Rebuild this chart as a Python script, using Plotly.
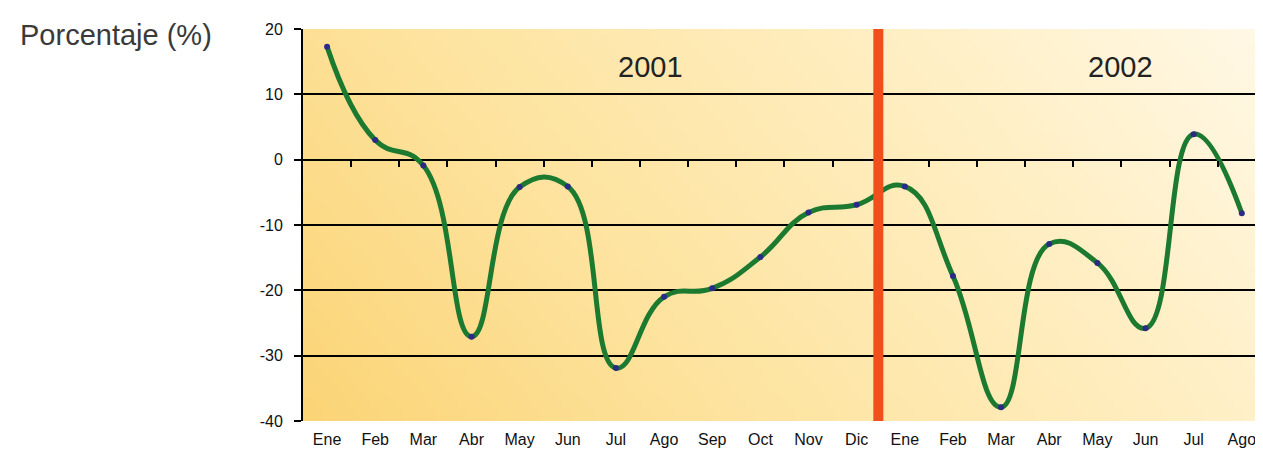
import base64, struct, zlib
import plotly.graph_objects as go

months = ["Ene", "Feb", "Mar", "Abr", "May", "Jun", "Jul", "Ago", "Sep", "Oct", "Nov", "Dic",
          "Ene", "Feb", "Mar", "Abr", "May", "Jun", "Jul", "Ago"]
values = [17.3, 3.0, -0.9, -27.1, -4.2, -4.1, -31.9, -21.0, -19.7, -14.9, -8.1, -6.9,
          -4.1, -17.8, -37.9, -12.9, -15.8, -25.8, 3.9, -8.2]
year_labels = ["2001", "2002"]
year_label_pos = [6.71, 16.47]
separator_pos = 11.45
y_ticks = [20, 10, 0, -10, -20, -30, -40]
y_tick_text = ["20", "10", "0", "-10", "-20", "-30", "-40"]

# ---- background gradient image (pure python PNG) ----
stops = [(0.0, (251, 212, 118)), (0.3, (253, 226, 155)), (0.75, (255, 240, 200)), (1.0, (255, 248, 230))]

def col(t):
    for (t0, c0), (t1, c1) in zip(stops[:-1], stops[1:]):
        if t <= t1:
            f = (t - t0) / (t1 - t0)
            return tuple(int(round(a + (b - a) * f)) for a, b in zip(c0, c1))
    return stops[-1][1]

W, H = 120, 40
raw = b""
for j in range(H):
    v = 1 - j / (H - 1)
    row = bytearray([0])
    for i in range(W):
        u = i / (W - 1)
        row += bytes(col(0.75 * u + 0.25 * v))
    raw += bytes(row)

def chunk(tag, data):
    c = struct.pack(">I", len(data)) + tag + data
    return c + struct.pack(">I", zlib.crc32(tag + data) & 0xffffffff)

png = b"\x89PNG\r\n\x1a\n" + chunk(b"IHDR", struct.pack(">IIBBBBB", W, H, 8, 2, 0, 0, 0)) \
      + chunk(b"IDAT", zlib.compress(raw, 9)) + chunk(b"IEND", b"")
uri = "data:image/png;base64," + base64.b64encode(png).decode()

x = list(range(len(months)))
FONT = "Liberation Sans, Arial, sans-serif"

fig = go.Figure()
fig.add_trace(go.Scatter(
    x=x, y=values, mode="lines+markers",
    line=dict(color="#1B7A2F", width=5, shape="spline", smoothing=1.3),
    marker=dict(color="#2B2A86", size=6, symbol="circle"),
    hoverinfo="skip", showlegend=False))
# dummy trace to activate boundary-tick axis
fig.add_trace(go.Scatter(x=[None], y=[None], xaxis="x2", yaxis="y", showlegend=False, hoverinfo="skip"))

fig.add_shape(type="line", xref="x", yref="paper", x0=separator_pos, x1=separator_pos, y0=0, y1=1,
              line=dict(color="#F04E1A", width=10), layer="above")

for lbl, px in zip(year_labels, year_label_pos):
    fig.add_annotation(x=px, y=14.2, xref="x", yref="y", text=lbl, showarrow=False,
                       font=dict(family=FONT, size=29, color="#222222"))

PW, PH = 960, 392
ML, MT = 295, 21
fig.add_annotation(xref="paper", yref="paper", x=(10 - ML) / PW, y=1 + (MT - 27) / PH,
                   text="Porcentaje (%)", showarrow=False, xanchor="left", yanchor="middle",
                   font=dict(family=FONT, size=29, color="#3a3a3a"))

xr = [-0.5, 19.44]
fig.update_layout(
    width=1255, height=445,
    margin=dict(l=ML, r=0, t=MT, b=32),
    paper_bgcolor="white", plot_bgcolor="#FEE6A2",
    images=[dict(source=uri, xref="paper", yref="paper", x=0, y=1, sizex=1, sizey=1,
                 sizing="stretch", layer="below", xanchor="left", yanchor="top")],
    xaxis=dict(range=xr, tickmode="array", tickvals=x, ticktext=months, showgrid=False,
               zeroline=False, showline=False, ticks="", ticklabelstandoff=7,
               tickfont=dict(family=FONT, size=16, color="#111111")),
    xaxis2=dict(overlaying="x", anchor="free", position=40 / 60, range=xr, tickmode="array",
                tickvals=[i + 0.5 for i in range(19)], ticks="outside", ticklen=6, tickwidth=2,
                tickcolor="black", showticklabels=False, showgrid=False, showline=False, zeroline=False),
    yaxis=dict(range=[-40, 20], tickmode="array", tickvals=y_ticks, ticktext=y_tick_text,
               showgrid=True, gridcolor="black",
               gridwidth=1.5, zeroline=False, showline=True, linecolor="black", linewidth=2,
               ticks="outside", ticklen=7, tickwidth=1.5, tickcolor="black", ticklabelstandoff=8,
               tickfont=dict(family=FONT, size=16, color="#111111")),
)

fig.write_html("out.html")
